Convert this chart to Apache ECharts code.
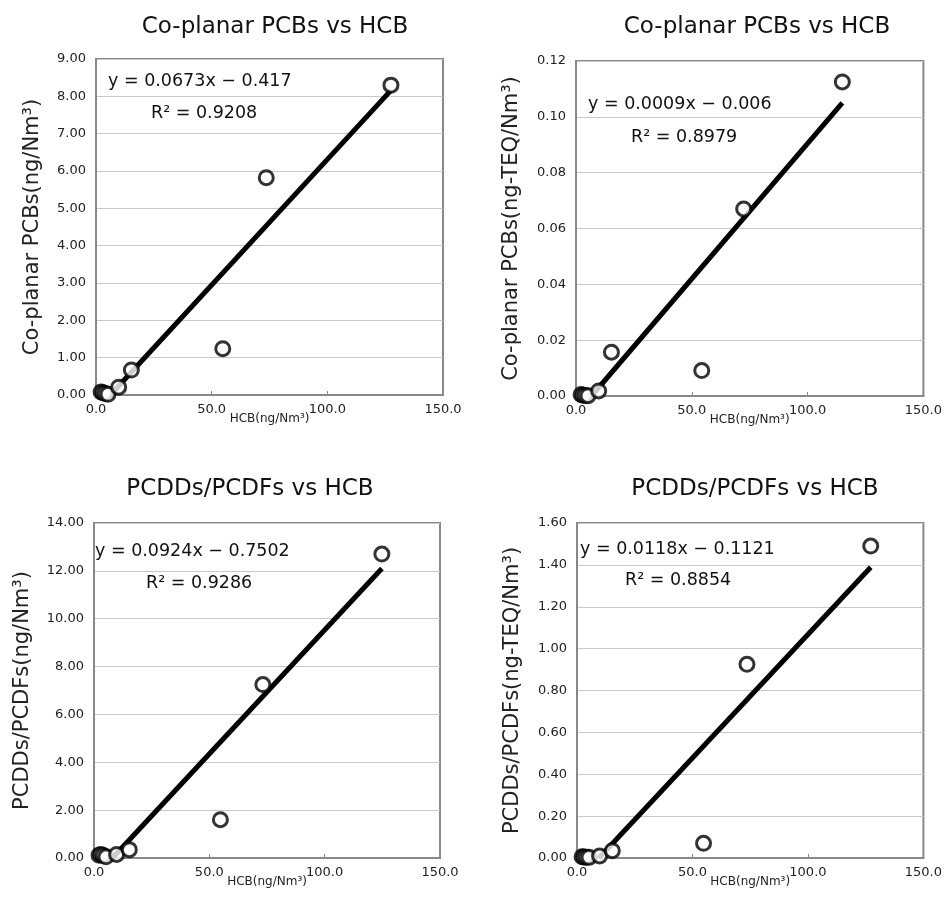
<!DOCTYPE html>
<html>
<head>
<meta charset="utf-8">
<title>HCB correlations</title>
<script src="https://cdn.jsdelivr.net/npm/echarts@6/dist/echarts.min.js"></script>
<style>
  html, body { margin: 0; padding: 0; background: #fff; }
  #main { width: 945px; height: 914px; }
</style>
</head>
<body>
<div id="main"></div>
<script>
// HCB (ng/Nm3) per panel
const hcb1 = [2.2, 3.0, 4.0, 5.2, 9.8, 15.3, 54.8, 73.6, 127.5];
const hcb2 = [2.2, 3.0, 4.0, 5.2, 9.8, 15.3, 54.3, 72.4, 115.0];
const hcb3 = [2.2, 3.0, 4.0, 5.2, 9.8, 15.3, 54.8, 73.2, 124.8];
const hcb4 = [2.2, 3.0, 4.0, 5.2, 9.8, 15.3, 54.8, 73.6, 127.2];

// measured values
const pcbMass = [0.08, 0.06, 0.04, 0.02, 0.21, 0.67, 1.24, 5.82, 8.30];
const pcbTeq  = [0.0005, 0.0003, 0.0002, 0.0001, 0.0018, 0.0157, 0.0091, 0.067, 0.1125];
const pcddMass = [0.12, 0.15, 0.10, 0.05, 0.15, 0.35, 1.60, 7.25, 12.7];
const pcddTeq  = [0.006, 0.005, 0.004, 0.003, 0.010, 0.035, 0.070, 0.925, 1.49];

// trend line ends as drawn: [x0, y0, x1, y1]
const trends = [
  [6.2, 0, 127.5, 8.16],
  [6.7, 0, 115.0, 0.105],
  [8.0, 0, 124.8, 12.1],
  [9.5, 0, 127.2, 1.389]
];
const eqText = ['y = 0.0673x \u2212 0.417', 'y = 0.0009x \u2212 0.006', 'y = 0.0924x \u2212 0.7502', 'y = 0.0118x \u2212 0.1121'];
const r2Text = ['R\u00b2 = 0.9208', 'R\u00b2 = 0.8979', 'R\u00b2 = 0.9286', 'R\u00b2 = 0.8854'];

const titles = ['Co-planar PCBs vs HCB', 'Co-planar PCBs vs HCB', 'PCDDs/PCDFs vs HCB', 'PCDDs/PCDFs vs HCB'];
const yNames = ['Co-planar PCBs(ng/Nm\u00b3)', 'Co-planar PCBs(ng-TEQ/Nm\u00b3)', 'PCDDs/PCDFs(ng/Nm\u00b3)', 'PCDDs/PCDFs(ng-TEQ/Nm\u00b3)'];
const yMax = [9, 0.12, 14, 1.6];
const yStep = [1, 0.02, 2, 0.2];
const xSeries = [hcb1, hcb2, hcb3, hcb4];
const ySeries = [pcbMass, pcbTeq, pcddMass, pcddTeq];

// layout of each panel (px)
const grids = [
  { left: 96, top: 59, width: 347, height: 336 },
  { left: 576, top: 61, width: 350, height: 335 },
  { left: 94, top: 523, width: 346, height: 335 },
  { left: 577, top: 523, width: 348, height: 335 }
];
const nameGaps = [53, 54, 61, 54];
const titlePos = [[270, 11], [752, 11], [245, 473], [750, 473]];
const eqPos = [[[103, 67], [146, 99]], [[583, 90], [626, 123]], [[90, 537], [141, 569]], [[575, 535], [620, 566]]];

const font = '"DejaVu Sans", Verdana, sans-serif';

const chart = echarts.init(document.getElementById('main'));

const xAxes = [], yAxes = [], series = [], texts = [];
for (let i = 0; i < 4; i++) {
  xAxes.push({
    type: 'value', gridIndex: i, min: 0, max: 150, interval: 50,
    name: 'HCB(ng/Nm\u00b3)', nameLocation: 'middle', nameGap: 18,
    nameMoveOverlap: false,
    nameTextStyle: { fontFamily: font, fontSize: 12, color: '#222' },
    axisLine: { show: true, lineStyle: { color: '#888', width: 2 } },
    axisTick: { show: true, inside: true, length: 4, lineStyle: { color: '#888' } },
    axisLabel: { fontFamily: font, fontSize: 13, color: '#222', margin: 8,
      formatter: v => v.toFixed(1) },
    splitLine: { show: false }
  });
  yAxes.push({
    type: 'value', gridIndex: i, min: 0, max: yMax[i], interval: yStep[i],
    name: yNames[i], nameLocation: 'middle', nameGap: nameGaps[i], nameRotate: 90,
    nameMoveOverlap: false,
    nameTextStyle: { fontFamily: font, fontSize: 21, color: '#222' },
    axisLine: { show: true, lineStyle: { color: '#888', width: 2 } },
    axisTick: { show: false },
    axisLabel: { fontFamily: font, fontSize: 13, color: '#222', margin: 10,
      formatter: v => v.toFixed(2) },
    splitLine: { show: true, lineStyle: { color: '#c8c8c8', width: 1 } }
  });

  const xs = xSeries[i], ys = ySeries[i], t = trends[i];
  series.push({
    type: 'line', xAxisIndex: i, yAxisIndex: i,
    data: [[t[0], t[1]], [t[2], t[3]]],
    showSymbol: false, clip: true, silent: true,
    lineStyle: { color: '#000', width: 5 },
    z: 2
  });
  series.push({
    type: 'scatter', xAxisIndex: i, yAxisIndex: i,
    data: xs.map((x, k) => [x, ys[k]]),
    symbol: 'circle', symbolSize: 14,
    itemStyle: { color: '#fff', borderColor: '#000', borderWidth: 3 },
    clip: false,
    z: 3
  });

  texts.push({
    text: titles[i], left: titlePos[i][0], top: titlePos[i][1], textAlign: 'center',
    textStyle: { fontFamily: font, fontSize: 23, fontWeight: 'normal', color: '#111' }
  });
  texts.push({
    text: eqText[i], left: eqPos[i][0][0], top: eqPos[i][0][1],
    textStyle: { fontFamily: font, fontSize: 17.5, fontWeight: 'normal', color: '#111' }
  });
  texts.push({
    text: r2Text[i], left: eqPos[i][1][0], top: eqPos[i][1][1],
    textStyle: { fontFamily: font, fontSize: 17.5, fontWeight: 'normal', color: '#111' }
  });
}

const option = {
  backgroundColor: '#fff',
  animation: false,
  title: texts,
  grid: grids.map(g => Object.assign({ show: true, borderColor: '#888', borderWidth: 2, backgroundColor: '#fff' }, g)),
  xAxis: xAxes,
  yAxis: yAxes,
  series: series
};

chart.setOption(option);
</script>
</body>
</html>
